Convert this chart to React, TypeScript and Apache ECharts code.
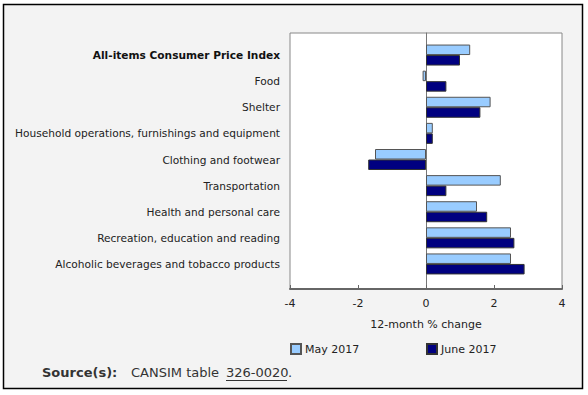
import React, { useEffect, useRef } from "react";
import * as echarts from "echarts";

const categories = [
  "All-items Consumer Price Index",
  "Food",
  "Shelter",
  "Household operations, furnishings and equipment",
  "Clothing and footwear",
  "Transportation",
  "Health and personal care",
  "Recreation, education and reading",
  "Alcoholic beverages and tobacco products",
];
const may2017 = [1.3, -0.1, 1.9, 0.2, -1.5, 2.2, 1.5, 2.5, 2.5];
const june2017 = [1.0, 0.6, 1.6, 0.2, -1.7, 0.6, 1.8, 2.6, 2.9];
const xTicks = { min: -4, max: 4, interval: 2 };

const FONT = "DejaVu Sans, Verdana, sans-serif";

export default function App() {
  const ref = useRef<HTMLDivElement>(null);
  useEffect(() => {
    document.body.style.margin = "0";
    const chart = echarts.init(ref.current!, null, { renderer: "svg" });
    chart.setOption({
      animation: false,
      backgroundColor: "#ffffff",
      textStyle: { fontFamily: FONT },
      graphic: [
        {
          type: "rect",
          z: -10,
          silent: true,
          shape: { x: 3.5, y: 4.5, width: 579, height: 384 },
          style: { fill: "#f3f3f3", stroke: "#000", lineWidth: 1.5 },
        },
        {
          type: "text",
          left: 42,
          top: 366,
          style: { text: "Source(s):", font: `bold 13px ${FONT}`, fill: "#333" },
        },
        {
          type: "text",
          left: 131,
          top: 366,
          style: { text: "CANSIM table", font: `13px ${FONT}`, fill: "#333" },
        },
        {
          type: "text",
          left: 226,
          top: 366,
          style: { text: "326-0020", font: `13px ${FONT}`, fill: "#333" },
        },
        {
          type: "line",
          shape: { x1: 226, y1: 380.5, x2: 287, y2: 380.5 },
          style: { stroke: "#333", lineWidth: 1 },
        },
        {
          type: "text",
          left: 288,
          top: 366,
          style: { text: ".", font: `13px ${FONT}`, fill: "#333" },
        },
      ],
      legend: [
        {
          left: 290,
          top: 343,
          padding: 0,
          itemWidth: 10,
          itemHeight: 10,
          itemGap: 5,
          icon: "rect",
          data: ["May 2017"],
          textStyle: { fontSize: 11, color: "#222", fontFamily: FONT, padding: [0, 0, 0, -1] },
        },
        {
          left: 426,
          top: 343,
          padding: 0,
          itemWidth: 10,
          itemHeight: 10,
          icon: "rect",
          data: ["June 2017"],
          textStyle: { fontSize: 11, color: "#222", fontFamily: FONT, padding: [0, 0, 0, -1] },
        },
      ],
      grid: [
        {
          left: 290,
          top: 33,
          width: 272,
          height: 256,
          show: true,
          backgroundColor: "#ffffff",
          borderColor: "#888",
          borderWidth: 1,
        },
        { left: 290, top: 42, width: 272, height: 235 },
      ],
      xAxis: [
        {
          gridIndex: 0,
          type: "value",
          ...xTicks,
          axisLine: { show: true, onZero: false, lineStyle: { color: "#666", width: 2 } },
          axisTick: { show: true, inside: true, length: 4, lineStyle: { color: "#666" } },
          axisLabel: { fontSize: 11, color: "#222", margin: 9, fontFamily: FONT },
          splitLine: { show: false },
          name: "12-month % change",
          nameLocation: "middle",
          nameGap: 30,
          nameTextStyle: { fontSize: 11, color: "#222", fontFamily: FONT },
        },
        {
          gridIndex: 1,
          type: "value",
          ...xTicks,
          show: false,
        },
      ],
      yAxis: [
        {
          gridIndex: 0,
          type: "value",
          min: 0,
          max: 1,
          axisLine: { show: true, onZero: true, lineStyle: { color: "#777", width: 1 } },
          axisTick: { show: false },
          axisLabel: { show: false },
          splitLine: { show: false },
        },
        {
          gridIndex: 1,
          type: "category",
          inverse: true,
          data: categories,
          axisLine: { show: false },
          axisTick: { show: false },
          axisLabel: {
            margin: 10,
            fontSize: 10.6,
            color: "#222",
            fontFamily: FONT,
            formatter: (v: string, i: number) => (i === 0 ? `{b|${v}}` : v),
            rich: {
              b: { fontWeight: "bold", fontSize: 10.6, color: "#111", fontFamily: FONT },
            },
          },
        },
      ],
      series: [
        {
          name: "May 2017",
          type: "bar",
          xAxisIndex: 1,
          yAxisIndex: 1,
          data: may2017,
          barWidth: 10.5,
          barGap: "0%",
          itemStyle: { color: "#99ccff", borderColor: "#555", borderWidth: 1 },
        },
        {
          name: "June 2017",
          type: "bar",
          xAxisIndex: 1,
          yAxisIndex: 1,
          data: june2017,
          barWidth: 10.5,
          barGap: "0%",
          itemStyle: { color: "#000080", borderColor: "#333", borderWidth: 1 },
        },
      ],
    });
    return () => chart.dispose();
  }, []);
  return <div ref={ref} style={{ width: 588, height: 395 }} />;
}
